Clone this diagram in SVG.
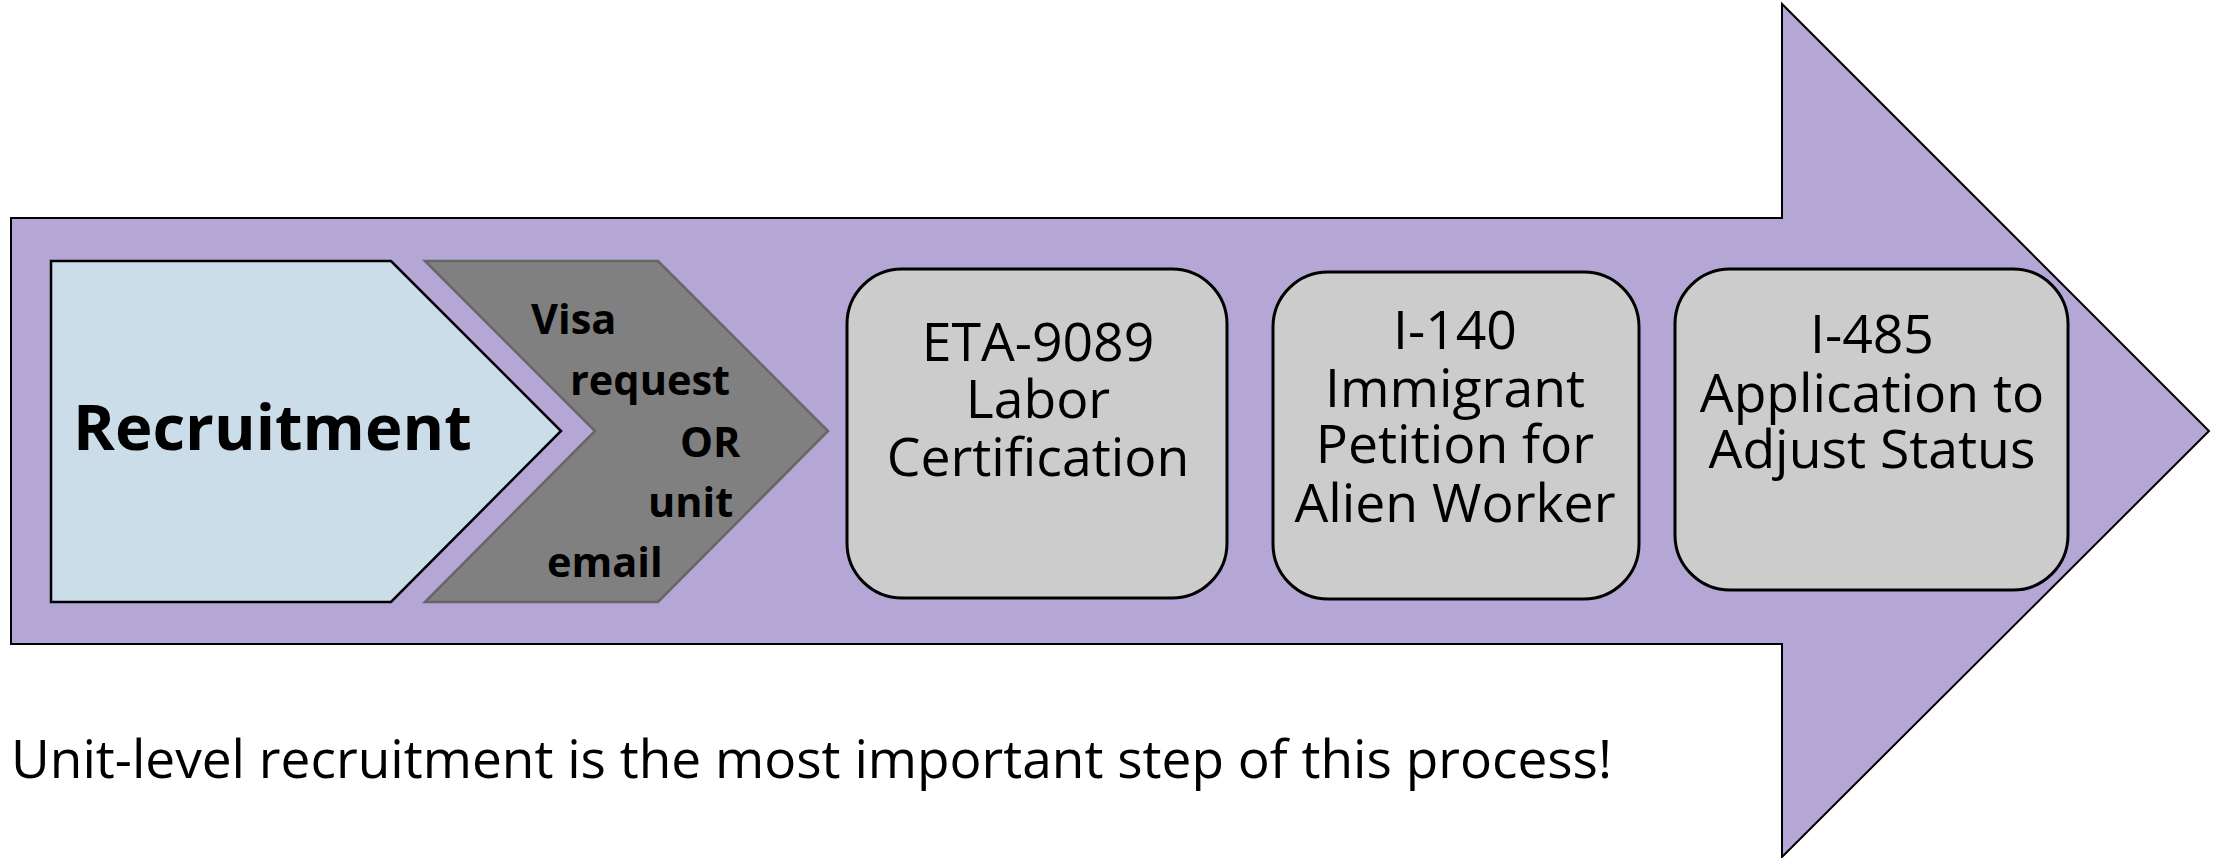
<svg xmlns="http://www.w3.org/2000/svg" width="2222" height="858" viewBox="0 0 2222 858">
<style>
.box{fill:#cccccc;stroke:#000;stroke-width:3}
.t{font-family:"Open Sans","Liberation Sans",sans-serif;font-size:53.5px;fill:#000;text-anchor:middle}
.b{font-family:"Open Sans","Liberation Sans",sans-serif;font-weight:bold;fill:#000}
</style>
<rect width="2222" height="858" fill="#fff"/>
<g id="big-arrow">
<polygon points="11,218 1782,218 1782,4 2209,431 1782,857 1782,644 11,644" fill="#b4a7d6" stroke="#000" stroke-width="2"/>
</g>
<g id="recruitment">
<polygon points="51,261 391,261 561,431 391,602 51,602" fill="#cbdde9" stroke="#000" stroke-width="2.5"/>
<text class="b" x="73" y="450" font-size="63.5">Recruitment</text>
</g>
<g id="visa-request">
<polygon points="425,261 658,261 828,431 658,602 425,602 595,431" fill="#808080" stroke="#666666" stroke-width="2.5"/>
<text class="b" font-size="41.5"><tspan x="531" y="334">Visa</tspan><tspan x="570" y="395">request</tspan><tspan x="680" y="457">OR</tspan><tspan x="648" y="517">unit</tspan><tspan x="547" y="577">email</tspan></text>
</g>
<g id="eta-9089">
<rect class="box" x="847" y="269" width="380" height="329" rx="55"/>
<text class="t"><tspan x="1038" y="361">ETA-9089</tspan><tspan x="1038" y="418">Labor</tspan><tspan x="1038" y="476">Certification</tspan></text>
</g>
<g id="i-140">
<rect class="box" x="1273" y="272" width="366" height="327" rx="55"/>
<text class="t"><tspan x="1455" y="349">I-140</tspan><tspan x="1455" y="407">Immigrant</tspan><tspan x="1455" y="463">Petition for</tspan><tspan x="1455" y="522">Alien Worker</tspan></text>
</g>
<g id="i-485">
<rect class="box" x="1675" y="269" width="393" height="321" rx="55"/>
<text class="t"><tspan x="1872" y="353">I-485</tspan><tspan x="1872" y="412">Application to</tspan><tspan x="1872" y="468">Adjust Status</tspan></text>
</g>
<g id="connectors"></g>
<text x="11" y="778" font-family="Open Sans, Liberation Sans, sans-serif" font-size="53.2" fill="#000">Unit-level recruitment is the most important step of this process!</text>
</svg>
